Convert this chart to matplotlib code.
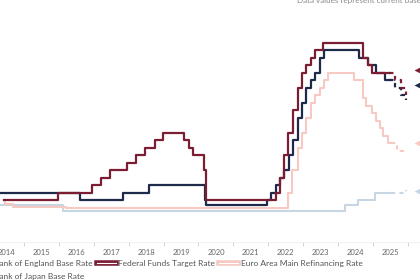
import matplotlib.pyplot as plt
import matplotlib.patheffects as pe
from matplotlib.lines import Line2D
import numpy as np

plt.rcParams['font.family'] = ['Lato', 'DejaVu Sans']

# Data (decimal year of change, rate in % after the change)
boe_t = [2014.30, 2016.59, 2017.84, 2018.59, 2020.19, 2020.21, 2021.96, 2022.09, 2022.22,
         2022.34, 2022.46, 2022.59, 2022.72, 2022.84, 2022.96, 2023.09, 2023.22, 2023.34,
         2023.47, 2023.59, 2024.59, 2024.85, 2025.09, 2025.35, 2025.47]
boe_r = [0.5, 0.25, 0.5, 0.75, 0.25, 0.1, 0.25, 0.5, 0.75,
         1.0, 1.25, 1.75, 2.25, 3.0, 3.5, 4.0, 4.25, 4.5,
         5.0, 5.25, 5.0, 4.75, 4.5, 4.25, 4.25]

fed_t = [2014.43, 2015.96, 2016.96, 2017.21, 2017.46, 2017.96, 2018.22, 2018.46, 2018.74,
         2018.97, 2019.58, 2019.72, 2019.83, 2020.17, 2020.21, 2022.21, 2022.34, 2022.46,
         2022.57, 2022.72, 2022.84, 2022.96, 2023.09, 2023.22, 2023.34, 2023.57, 2024.72,
         2024.85, 2024.97, 2025.47]
fed_r = [0.25, 0.5, 0.75, 1.0, 1.25, 1.5, 1.75, 2.0, 2.25,
         2.5, 2.25, 2.0, 1.75, 1.25, 0.25, 0.5, 1.0, 1.75,
         2.5, 3.25, 4.0, 4.5, 4.75, 5.0, 5.25, 5.5, 5.0,
         4.75, 4.5, 4.5]

ecb_t = [2014.43, 2014.44, 2014.69, 2016.21, 2022.57, 2022.69, 2022.84, 2022.97, 2023.09,
         2023.22, 2023.34, 2023.47, 2023.59, 2023.72, 2024.47, 2024.71, 2024.79, 2024.96,
         2025.10, 2025.20, 2025.30, 2025.44, 2025.52]
ecb_r = [0.25, 0.15, 0.05, 0.0, 0.5, 1.25, 2.0, 2.5, 3.0,
         3.5, 3.75, 4.0, 4.25, 4.5, 4.25, 3.65, 3.4, 3.15,
         2.9, 2.65, 2.4, 2.15, 2.15]

boj_t = [2014.30, 2016.12, 2024.21, 2024.58, 2025.07, 2025.52]
boj_r = [0.1, -0.1, 0.1, 0.25, 0.5, 0.5]

# forecast paths (dashed)
boe_ft = [2025.47, 2025.62, 2025.80, 2025.95]
boe_fr = [4.25, 4.0, 3.75, 3.6]
fed_ft = [2025.47, 2025.62, 2025.80, 2025.95]
fed_fr = [4.5, 4.25, 4.0, 3.75]
ecb_ft = [2025.52, 2025.70, 2025.90]
ecb_fr = [2.15, 1.9, 1.85]
boj_ft = [2025.52, 2025.75, 2025.95]
boj_fr = [0.5, 0.5, 0.6]

# current value markers
cur = {'boe': 4.1, 'fed': 4.6, 'ecb': 2.15, 'boj': 0.55}

years = np.arange(2014, 2026)

navy = '#1e2a4a'
red = '#7b1e34'
pink = '#f6c9c2'
lblue = '#c8d5e2'

fig = plt.figure(figsize=(4.2, 2.8), dpi=100)
ax = fig.add_axes([0, 0.136, 1, 0.864])

ax.step(boj_t, boj_r, where='post', color=lblue, lw=1.5)
ax.step(ecb_t, ecb_r, where='post', color=pink, lw=1.5)
ax.step(boe_t, boe_r, where='post', color=navy, lw=1.6)
ax.step(fed_t, fed_r, where='post', color=red, lw=1.6)

ax.step(boj_ft, boj_fr, where='post', color=lblue, lw=1.5, ls=(0, (2, 2)))
ax.step(ecb_ft, ecb_fr, where='post', color=pink, lw=1.5, ls=(0, (2, 2)))
ax.step(boe_ft, boe_fr, where='post', color=navy, lw=1.6, ls=(0, (2, 2)))
ax.step(fed_ft, fed_fr, where='post', color=red, lw=1.6, ls=(0, (2, 2)))

for key, c in [('boe', navy), ('fed', red), ('ecb', pink), ('boj', lblue)]:
    ax.plot([2026.29], [cur[key]], marker='<', ms=6, color=c, mec='none', clip_on=False)

ax.set_xlim(2014.31, 2026.35)
ax.set_ylim(-1.13, 6.93)

for s in ['top', 'right', 'left']:
    ax.spines[s].set_visible(False)
ax.spines['bottom'].set_color('#f0f0f0')
ax.spines['bottom'].set_linewidth(0.6)
ax.set_yticks([])

ax.set_xticks(np.arange(2015, 2027))
ax.set_xticklabels([])
ax.set_xticks(years + 0.5, minor=True)
ax.set_xticklabels([str(y) for y in years], minor=True)
ax.tick_params(axis='x', which='major', length=3, width=0.6, color='#cccccc')
ax.tick_params(axis='x', which='minor', length=0, pad=5, labelsize=5.5, labelcolor='#666666')

fig.text(297 / 420, 1.012, 'Data values represent current base rates and forecasts',
         fontsize=5.8, color='#888888', ha='left', va='top')


def handle(c):
    return Line2D([], [], color='white', lw=0.8,
                  path_effects=[pe.Stroke(linewidth=4, foreground=c), pe.Normal()])


labels = ['Bank of England Base Rate', 'Bank of Japan Base Rate',
          'Federal Funds Target Rate', 'Euro Area Main Refinancing Rate']
fig.legend([handle(navy), handle(lblue), handle(red), handle(pink)], labels,
           loc='upper left', bbox_to_anchor=(-0.066, 0.072), ncol=3, frameon=False,
           fontsize=6.0, labelcolor='#555555', handlelength=2.3, handletextpad=0.3,
           columnspacing=0.5, labelspacing=0.75, borderpad=0, borderaxespad=0)

fig.savefig('out.png', dpi=100)
